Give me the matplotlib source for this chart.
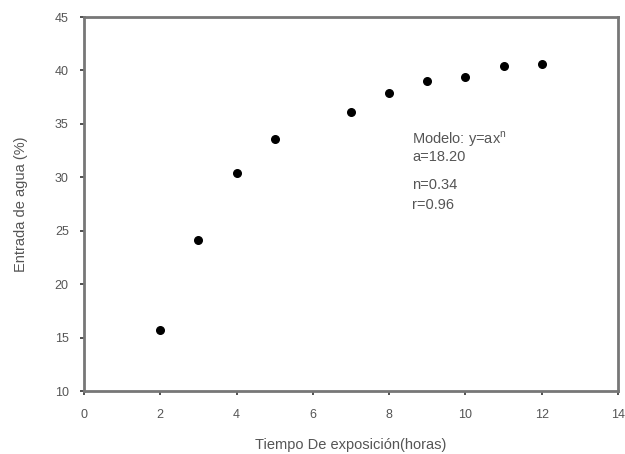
import matplotlib
matplotlib.use("Agg")
import matplotlib.pyplot as plt

plt.rcParams['font.family'] = ['Liberation Sans', 'DejaVu Sans']

hours = [2, 3, 4, 5, 7, 8, 9, 10, 11, 12]
water = [15.7, 24.1, 30.4, 33.6, 36.1, 37.9, 39.0, 39.4, 40.4, 40.6]
xticks = [0, 2, 4, 6, 8, 10, 12, 14]
yticks = [10, 15, 20, 25, 30, 35, 40, 45]

fig = plt.figure(figsize=(6.25, 4.54), dpi=100)
ax = fig.add_axes([84/625, 1 - 391/454, (618-84)/625, (391-17)/454])
ax.scatter(hours, water, s=30, color='black', zorder=3)
ax.set_xlim(0, 14)
ax.set_ylim(10, 45)
ax.set_xticks(xticks)
ax.set_yticks(yticks)
gray = '#777777'
for sp in ax.spines.values():
    sp.set_color(gray)
    sp.set_linewidth(2)
ax.tick_params(direction='out', length=3, width=1.2, color='#333333',
               labelsize=9, labelcolor='#555555')
ax.tick_params(axis='x', pad=10)
ax.tick_params(axis='y', pad=8)
ax.set_xlabel('Tiempo De exposición(horas)', fontsize=10.5, color='#555555', labelpad=12)
ax.set_ylabel('Entrada de agua (%)', fontsize=10.5, color='#555555', labelpad=19)

tc = '#555555'
ax.text(8.6, 33.6, 'Modelo: y=ax$^{\\mathregular{n}}$', fontsize=10.5, color=tc, va='center')
ax.text(8.6, 31.9, 'a=18.20', fontsize=10.5, color=tc, va='center')
ax.text(8.6, 29.3, 'n=0.34', fontsize=10.5, color=tc, va='center')
ax.text(8.6, 27.4, 'r=0.96', fontsize=10.5, color=tc, va='center')

fig.savefig('out.png', dpi=100)
